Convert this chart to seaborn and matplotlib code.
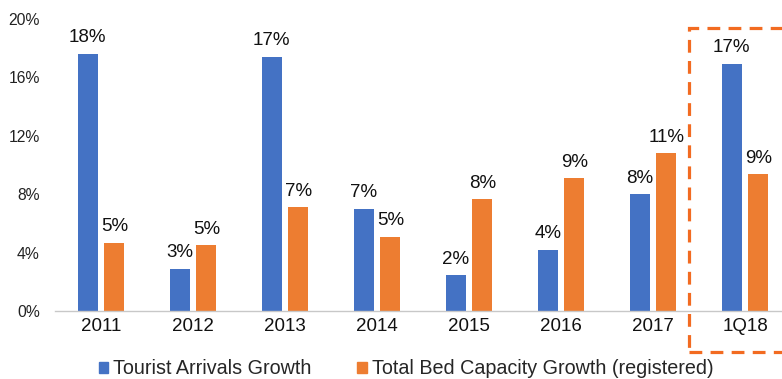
import matplotlib
matplotlib.use("Agg")
import matplotlib.pyplot as plt
import matplotlib.patches as mpatches
import seaborn as sns
import pandas as pd

categories = ["2011", "2012", "2013", "2014", "2015", "2016", "2017", "1Q18"]
tourist = [17.6, 2.9, 17.4, 7.0, 2.45, 4.2, 8.0, 16.95]
bed = [4.65, 4.5, 7.1, 5.1, 7.65, 9.1, 10.8, 9.35]
tourist_labels = ["18%", "3%", "17%", "7%", "2%", "4%", "8%", "17%"]
bed_labels = ["5%", "5%", "7%", "5%", "8%", "9%", "11%", "9%"]
series = ["Tourist Arrivals Growth", "Total Bed Capacity Growth (registered)"]
colors = ["#4472C4", "#ED7D31"]

df = pd.DataFrame({
    "cat": categories * 2,
    "val": tourist + bed,
    "series": [series[0]] * len(categories) + [series[1]] * len(categories),
})

sns.set_theme(style="white")
plt.rcParams["font.family"] = ["Liberation Sans", "DejaVu Sans"]

W, H = 782, 379
fig = plt.figure(figsize=(W / 100, H / 100), dpi=100)
ax_left, ax_bottom, ax_top = 55, 311, 19
ax = fig.add_axes([ax_left / W, (H - ax_bottom) / H, (W - ax_left) / W, (ax_bottom - ax_top) / H])

sns.barplot(data=df, x="cat", y="val", hue="series", palette=colors, order=categories,
            hue_order=series, width=0.58, gap=0.24, ax=ax, legend=False, saturation=1,
            edgecolor="none")

ax.set_ylim(0, 20)
ax.set_xlim(-0.5, 7.5 - 9 / 92)
ax.set_yticks([0, 4, 8, 12, 16, 20])
ax.set_yticklabels([f"{v}%" for v in [0, 4, 8, 12, 16, 20]], fontsize=11.3, color="#222222")
ax.set_xticklabels(categories, fontsize=13.5, color="#111111")
ax.tick_params(axis="y", length=0, pad=11)
ax.tick_params(axis="x", length=0, pad=5)
ax.set_xlabel("")
ax.set_ylabel("")
for s in ["top", "right", "left"]:
    ax.spines[s].set_visible(False)
ax.spines["bottom"].set_color("#C8C8C8")
ax.spines["bottom"].set_linewidth(1)

labels_all = [tourist_labels, bed_labels]
for container, labs in zip(ax.containers, labels_all):
    ax.bar_label(container, labels=labs, padding=5.5, fontsize=13.5, color="#111111")

# dashed highlight box
rect = mpatches.Rectangle((689 / W, (H - 352) / H), (820 - 689) / W, (352 - 28) / H,
                          transform=fig.transFigure, fill=False, edgecolor="#F26B21",
                          linewidth=2.3, linestyle=(0, (4, 2.6)), clip_on=False)
fig.patches.append(rect)

handles = [mpatches.Patch(color=c, label=s) for c, s in zip(colors, series)]
fig.legend(handles=handles, loc="center", bbox_to_anchor=(406 / W, (H - 369) / H), ncol=2,
           frameon=False, fontsize=14.2, handlelength=0.5, handleheight=0.5,
           handletextpad=0.25, columnspacing=2.3, borderaxespad=0)

fig.savefig("out.png", dpi=100)
